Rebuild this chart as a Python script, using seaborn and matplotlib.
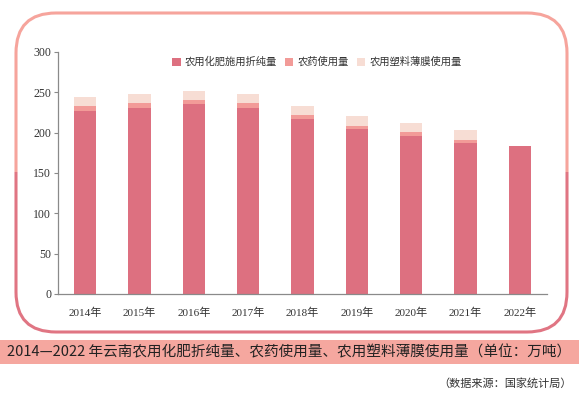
import pandas as pd
import numpy as np
import matplotlib
matplotlib.use('Agg')
import matplotlib.pyplot as plt
from matplotlib.patches import FancyBboxPatch, Rectangle, Patch
import seaborn as sns

# data (万吨)
years = ['2014年', '2015年', '2016年', '2017年', '2018年', '2019年', '2020年', '2021年', '2022年']
fertilizer = [227, 231, 235, 231, 217, 204, 196, 187, 183]
pesticide = [5.8, 5.9, 5.8, 5.6, 5.2, 4.6, 4.3, 3.9, 0]
film = [11.0, 11.4, 11.3, 11.6, 11.4, 12.0, 12.0, 12.1, 0]
series_names = ['农用化肥施用折纯量', '农药使用量', '农用塑料薄膜使用量']
colors = ['#DD7080', '#F29B98', '#F7DDD4']

df = pd.DataFrame({'year': years, 'fert': fertilizer, 'pest': pesticide, 'film': film})
df['top1'] = df['fert']
df['top2'] = df['fert'] + df['pest']
df['top3'] = df['top2'] + df['film']

sns.set_style('white')
plt.rcParams['font.family'] = ['Noto Sans CJK SC', 'DejaVu Sans']
serif = ['Liberation Serif', 'Noto Sans CJK SC']

fig = plt.figure(figsize=(5.79, 4.01), dpi=100)
ax = fig.add_axes([58 / 579, 1 - 294 / 401, (547 - 58) / 579, (294 - 52) / 401])

# stacked bars drawn as overlapping cumulative totals
for col, c in zip(['top3', 'top2', 'top1'], colors[::-1]):
    sns.barplot(data=df, x='year', y=col, color=c, width=0.41, ax=ax,
                saturation=1, linewidth=0)

ax.set_xlim(-0.5, 8.5)
ax.set_ylim(0, 300)
ax.set_yticks([0, 50, 100, 150, 200, 250, 300])
ax.set_xlabel('')
ax.set_ylabel('')
for s in ['top', 'right']:
    ax.spines[s].set_visible(False)
for s in ['left', 'bottom']:
    ax.spines[s].set_color('#8a8a8a')
    ax.spines[s].set_linewidth(0.9)
ax.tick_params(axis='y', left=True, length=3, width=0.8, color='#8a8a8a', pad=2)
ax.tick_params(axis='x', bottom=False, pad=6)
for lab in ax.get_yticklabels():
    lab.set_family(serif)
    lab.set_fontsize(8.5)
    lab.set_color('#333333')
for lab in ax.get_xticklabels():
    lab.set_family(serif)
    lab.set_fontsize(8)
    lab.set_color('#333333')

handles = [Patch(facecolor=c, edgecolor='none') for c in colors]
fig.legend(handles, series_names, loc='center', bbox_to_anchor=(317 / 579, 1 - 62 / 401),
           ncol=3, frameon=False, fontsize=7.4, handlelength=0.8, handleheight=0.8,
           handletextpad=0.4, columnspacing=0.8, labelcolor='#333333')

# rounded card border, salmon on top and pink below
box = dict(boxstyle='round,pad=0,rounding_size=40', fill=False, linewidth=2.2,
           transform=None)
x0, y0, x1, y1 = 16, 401 - 332, 567, 401 - 13
upper = FancyBboxPatch((x0, y0), x1 - x0, y1 - y0, edgecolor='#F6A49C', **box)
lower = FancyBboxPatch((x0, y0), x1 - x0, y1 - y0, edgecolor='#E07583', **box)
split = 401 - 172
upper.set_clip_path(Rectangle((0, split), 579, 401 - split, transform=None))
lower.set_clip_path(Rectangle((0, 0), 579, split, transform=None))
fig.patches.extend([upper, lower])

# title band
fig.patches.append(Rectangle((0, 1 - 364 / 401), 1, 24 / 401, transform=fig.transFigure,
                             facecolor='#F5A79F', edgecolor='none'))
fig.text(0.5, 1 - 352 / 401,
         '2014—2022 年云南农用化肥折纯量、农药使用量、农用塑料薄膜使用量（单位：万吨）',
         ha='center', va='center', fontsize=10.5, color='#222222')
fig.text(572 / 579, 1 - 383 / 401, '（数据来源：国家统计局）', ha='right', va='center',
         fontsize=8, color='#333333')

fig.savefig('out.png', dpi=100)
